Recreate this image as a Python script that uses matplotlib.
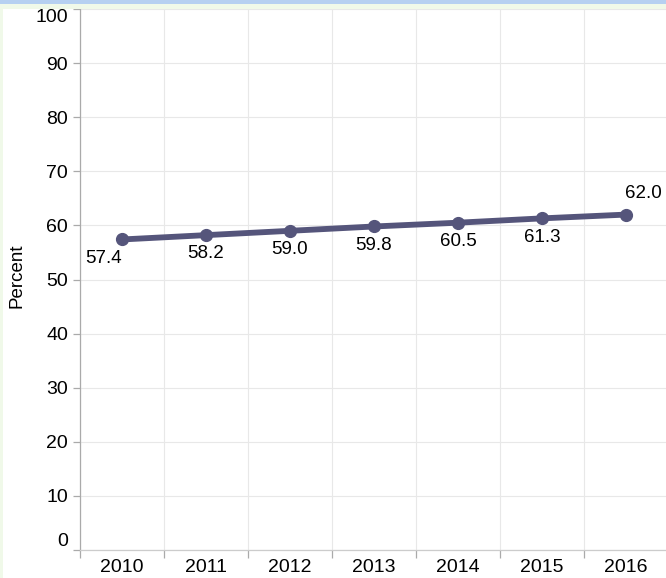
#!/usr/bin/env python3
"""
Percent by year, 2010-2016
"""

import matplotlib
matplotlib.use('Agg')
import matplotlib.pyplot as plt
from matplotlib.patches import Rectangle

# data
years = ['2010', '2011', '2012', '2013', '2014', '2015', '2016']
percent = [57.4, 58.2, 59.0, 59.8, 60.5, 61.3, 62.0]
y_ticks = [0, 10, 20, 30, 40, 50, 60, 70, 80, 90, 100]

plt.rcParams['font.family'] = ['Liberation Sans', 'DejaVu Sans']

W, H = 666, 578
fig = plt.figure(figsize=(W / 100, H / 100), dpi=100)
fig.patch.set_facecolor('white')

# coloured strips of the surrounding page (cropped title bar)
fig.patches.append(Rectangle((0, 1 - 4 / H), 1, 4 / H, transform=fig.transFigure,
                             facecolor='#b6d0f1', edgecolor='none', zorder=0))
fig.patches.append(Rectangle((0, 1 - 9 / H), 1, 5 / H, transform=fig.transFigure,
                             facecolor='#f0f9e9', edgecolor='none', zorder=0))
fig.patches.append(Rectangle((0, 0), 3 / W, 1 - 9 / H, transform=fig.transFigure,
                             facecolor='#f0f9e9', edgecolor='none', zorder=0))

# axes area: left at x=80, y from 9 to 550, bands of ~84 px
ax = fig.add_axes([80 / W, (H - 550) / H, 588 / W, 541 / H])
ax.set_facecolor('white')

x = list(range(len(years)))
ax.plot(x, percent, color='#55557b', linewidth=4.2, marker='o',
        markersize=8.5, solid_capstyle='round', zorder=3)

# value labels
for i, v in enumerate(percent):
    if i == 0:
        ax.annotate(f'{v:.1f}', (i, v), xytext=(0, -13.5), textcoords='offset points',
                    ha='right', va='center', fontsize=13.5, color='black')
    elif i == len(percent) - 1:
        ax.annotate(f'{v:.1f}', (i, v), xytext=(-1, 15.5), textcoords='offset points',
                    ha='left', va='center', fontsize=13.5, color='black')
    else:
        ax.annotate(f'{v:.1f}', (i, v), xytext=(0, -13.5), textcoords='offset points',
                    ha='center', va='center', fontsize=13.5, color='black')

ax.set_xlim(-0.5, len(years) - 0.5)
ax.set_ylim(0, 100)

# x: ticks and grid on the band edges, labels in the band centres
ax.set_xticks([i - 0.5 for i in x] + [len(years) - 0.5])
ax.set_xticklabels([])
ax.set_xticks(x, minor=True)
ax.set_xticklabels(years, minor=True)
ax.tick_params(axis='x', which='major', length=6, width=0.9, color='#aaaaaa')
ax.tick_params(axis='x', which='minor', length=0, pad=6.5, labelsize=14)

ax.set_yticks(y_ticks)
ax.set_yticklabels([str(t) for t in y_ticks])
ax.tick_params(axis='y', length=5, width=0.9, color='#aaaaaa', pad=3.5, labelsize=14)
ylabels = ax.get_yticklabels()
ylabels[0].set_va('bottom')
ylabels[-1].set_va('top')

ax.grid(True, which='major', color='#e8e8e8', linewidth=0.8, zorder=0)
ax.set_axisbelow(True)

for side in ['top', 'right']:
    ax.spines[side].set_visible(False)
ax.spines['left'].set_color('#aaaaaa')
ax.spines['left'].set_linewidth(0.9)
ax.spines['bottom'].set_color('#cccccc')
ax.spines['bottom'].set_linewidth(0.9)
ax.spines['bottom'].set_linestyle((0, (3, 1)))

fig.text(17 / W, 1 - 276 / H, 'Percent', rotation=90, ha='center', va='center',
         fontsize=13.5, color='black')

fig.savefig('out.png', dpi=100)
plt.close(fig)
